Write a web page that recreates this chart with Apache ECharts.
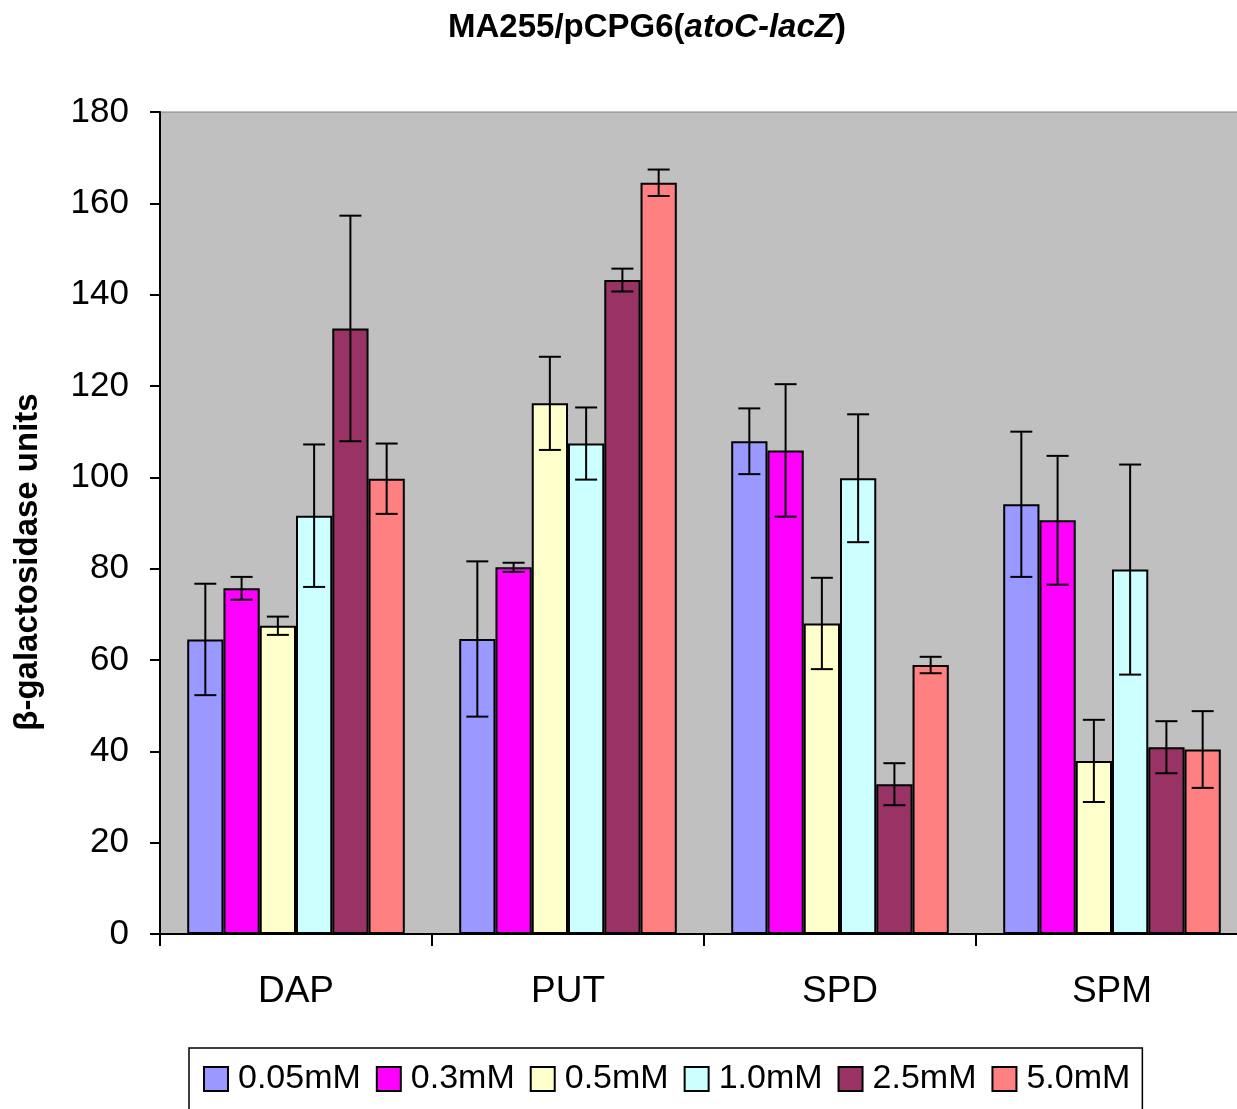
<!DOCTYPE html>
<html>
<head>
<meta charset="utf-8">
<script src="https://cdn.jsdelivr.net/npm/echarts@6/dist/echarts.min.js"></script>
<style>
html,body{margin:0;padding:0;background:#fff;overflow:hidden;}
#chart{width:1248px;height:1109px;}
</style>
</head>
<body>
<div id="chart"></div>
<script>
const categories = ['DAP', 'PUT', 'SPD', 'SPM'];
const seriesNames = ['0.05mM', '0.3mM', '0.5mM', '1.0mM', '2.5mM', '5.0mM'];
const colors = ['#9999FF', '#FF00FF', '#FFFFCC', '#CCFFFF', '#993366', '#FF8080'];

const v005 = [64.5, 64.6, 107.9, 94.1];
const v03  = [75.7, 80.3, 105.9, 90.6];
const v05  = [67.5, 116.2, 68.0, 37.9];
const v10  = [91.6, 107.4, 99.8, 79.8];
const v25  = [132.6, 143.2, 32.8, 40.9];
const v50  = [99.7, 164.5, 58.9, 40.4];

const e005 = [12.2, 17.0, 7.2, 15.9];
const e03  = [2.5, 1.0, 14.5, 14.1];
const e05  = [2.0, 10.2, 10.0, 9.0];
const e10  = [15.6, 7.9, 14.0, 23.0];
const e25  = [24.7, 2.5, 4.6, 5.7];
const e50  = [7.7, 2.9, 1.8, 8.4];

const yTicks = {min: 0, max: 180, interval: 20};

const values = [v005, v03, v05, v10, v25, v50];
const errors = [e005, e03, e05, e10, e25, e50];

const GAP = 0.2;
const N = seriesNames.length;

function errRender(si) {
  return function (params, api) {
    const cat = api.value(0), v = api.value(1), e = api.value(2);
    const band = api.size([1, 0])[0];
    const bw = band * (1 - GAP) / N;
    const x = api.coord([cat, v])[0] - band * (1 - GAP) / 2 + bw * (si + 0.5);
    const yT = api.coord([cat, v + e])[1];
    const yB = api.coord([cat, v - e])[1];
    const cap = 11;
    const st = {stroke: '#000', lineWidth: 2};
    return {
      type: 'group',
      children: [
        {type: 'line', shape: {x1: x, y1: yT, x2: x, y2: yB}, style: st},
        {type: 'line', shape: {x1: x - cap, y1: yT, x2: x + cap, y2: yT}, style: st},
        {type: 'line', shape: {x1: x - cap, y1: yB, x2: x + cap, y2: yB}, style: st}
      ]
    };
  };
}

const series = [];
seriesNames.forEach((name, i) => {
  series.push({
    name: name,
    type: 'bar',
    data: values[i],
    barGap: '0%',
    barCategoryGap: (GAP * 100) + '%',
    itemStyle: {color: colors[i], borderColor: '#000', borderWidth: 2},
    emphasis: {disabled: true},
    animation: false
  });
});
seriesNames.forEach((name, i) => {
  series.push({
    name: 'err_' + name,
    type: 'custom',
    renderItem: errRender(i),
    data: values[i].map((v, k) => [k, v, errors[i][k]]),
    encode: {x: 0, y: 1},
    z: 5,
    silent: true,
    animation: false
  });
});

const chart = echarts.init(document.getElementById('chart'));
chart.setOption({
  backgroundColor: '#fff',
  animation: false,
  title: {
    text: '{a|MA255/pCPG6(}{b|atoC-lacZ}{a|)}',
    left: 443,
    top: 6,
    textStyle: {
      rich: {
        a: {fontFamily: 'Liberation Sans', fontWeight: 'bold', fontSize: 33, color: '#000'},
        b: {fontFamily: 'Liberation Sans', fontWeight: 'bold', fontStyle: 'italic', fontSize: 33, color: '#000'}
      }
    }
  },
  graphic: [{
    type: 'text',
    x: 28,
    y: 562,
    rotation: Math.PI / 2,
    style: {
      text: 'β-galactosidase units',
      fontFamily: 'Liberation Sans',
      fontWeight: 'bold',
      fontSize: 33,
      fill: '#000',
      textAlign: 'center',
      textVerticalAlign: 'middle'
    }
  }],
  legend: {
    data: seriesNames,
    left: 189,
    top: 1048,
    orient: 'horizontal',
    icon: 'rect',
    itemWidth: 24,
    itemHeight: 24,
    itemGap: 15,
    borderColor: '#000',
    borderWidth: 1.5,
    padding: [14, 12, 14, 14],
    selectedMode: false,
    textStyle: {fontFamily: 'Liberation Sans', fontSize: 34, color: '#000', padding: [0, 0, 0, 5]}
  },
  grid: {
    left: 160,
    right: 0,
    top: 112,
    bottom: 175,
    show: true,
    backgroundColor: '#C0C0C0',
    borderColor: '#808080',
    borderWidth: 1
  },
  xAxis: {
    type: 'category',
    data: categories,
    axisLine: {lineStyle: {color: '#000', width: 2}},
    axisTick: {show: true, length: 12, lineStyle: {color: '#000', width: 2}},
    axisLabel: {fontFamily: 'Liberation Sans', fontSize: 37, color: '#000', margin: 39},
    splitLine: {show: false}
  },
  yAxis: {
    type: 'value',
    min: yTicks.min,
    max: yTicks.max,
    interval: yTicks.interval,
    axisLine: {show: true, lineStyle: {color: '#000', width: 2}},
    axisTick: {show: true, length: 10, lineStyle: {color: '#000', width: 2}},
    axisLabel: {fontFamily: 'Liberation Sans', fontSize: 35, color: '#000', margin: 31},
    splitLine: {show: false}
  },
  series: series
});
</script>
</body>
</html>
